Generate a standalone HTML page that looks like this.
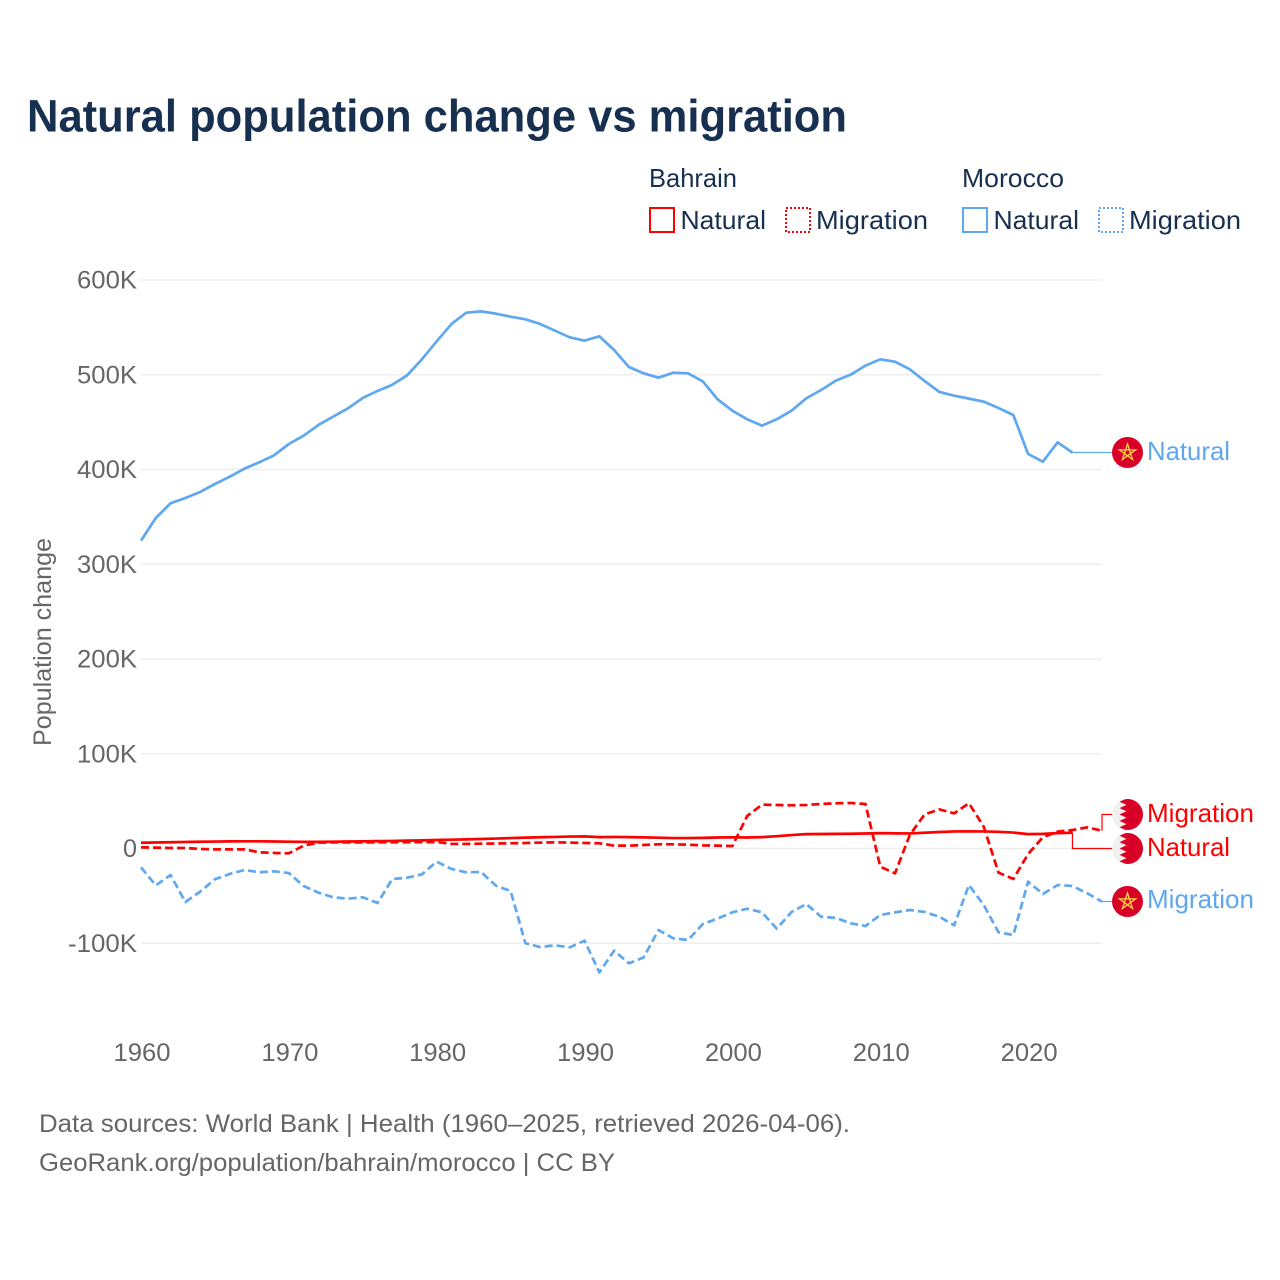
<!DOCTYPE html>
<html lang="en">
<head>
<meta charset="utf-8">
<title>Natural population change vs migration</title>
<style>
html,body{margin:0;padding:0;background:#fff;width:1280px;height:1280px;overflow:hidden}
svg{display:block}
text{font-family:"Liberation Sans",sans-serif}
</style>
</head>
<body>
<svg id="chart" xmlns="http://www.w3.org/2000/svg" width="1280" height="1280" viewBox="0 0 1280 1280">
  <rect width="1280" height="1280" fill="#fff"/>
  <text x="27" y="131.5" font-size="45.5" font-weight="700" fill="#18304f" textLength="820" lengthAdjust="spacingAndGlyphs">Natural population change vs migration</text>

  <g font-size="26" fill="#18304f">
    <text x="649" y="187" textLength="88" lengthAdjust="spacingAndGlyphs">Bahrain</text>
    <text x="962" y="187" textLength="102" lengthAdjust="spacingAndGlyphs">Morocco</text>
    <rect x="650" y="208" width="24" height="24" fill="none" stroke="#ff0000" stroke-width="2"/>
    <text x="680.5" y="229" textLength="85.5" lengthAdjust="spacingAndGlyphs">Natural</text>
    <rect x="786" y="208" width="24" height="24" fill="none" stroke="#ff0000" stroke-width="2" stroke-dasharray="2 2"/>
    <text x="816" y="229" textLength="112" lengthAdjust="spacingAndGlyphs">Migration</text>
    <rect x="963" y="208" width="24" height="24" fill="none" stroke="#5fa8ef" stroke-width="2"/>
    <text x="993.5" y="229" textLength="85.5" lengthAdjust="spacingAndGlyphs">Natural</text>
    <rect x="1099" y="208" width="24" height="24" fill="none" stroke="#5fa8ef" stroke-width="2" stroke-dasharray="2 2"/>
    <text x="1129" y="229" textLength="112" lengthAdjust="spacingAndGlyphs">Migration</text>
  </g>

  <text transform="translate(51,642) rotate(-90)" text-anchor="middle" font-size="25" fill="#666" textLength="208" lengthAdjust="spacingAndGlyphs">Population change</text>

  <g id="grid"></g>
  <g id="yticks"></g>
  <g id="xticks"></g>
  <g id="connectors"></g>
  <g id="series"></g>

  <g transform="translate(1127.5,452.5)">
    <circle r="15.5" fill="#d80027"/>
    <polygon points="0,-8.5 5,6.9 -8.1,-2.6 8.1,-2.6 -5,6.9" fill="none" stroke="#ffda44" stroke-width="1.3"/>
  </g>
  <g transform="translate(1127.5,901.5)">
    <circle r="15.5" fill="#d80027"/>
    <polygon points="0,-8.5 5,6.9 -8.1,-2.6 8.1,-2.6 -5,6.9" fill="none" stroke="#ffda44" stroke-width="1.3"/>
  </g>
  <defs>
    <clipPath id="flag-clip"><circle r="15.5"/></clipPath>
  </defs>
  <g transform="translate(1127.5,814.5)" clip-path="url(#flag-clip)">
    <circle r="15.5" fill="#f0f0f0"/>
    <polygon points="-1,-16 -8,-12.8 -1,-9.6 -8,-6.4 -1,-3.2 -8,0 -1,3.2 -8,6.4 -1,9.6 -8,12.8 -1,16 16,16 16,-16" fill="#d80027"/>
  </g>
  <g transform="translate(1127.5,848.5)" clip-path="url(#flag-clip)">
    <circle r="15.5" fill="#f0f0f0"/>
    <polygon points="-1,-16 -8,-12.8 -1,-9.6 -8,-6.4 -1,-3.2 -8,0 -1,3.2 -8,6.4 -1,9.6 -8,12.8 -1,16 16,16 16,-16" fill="#d80027"/>
  </g>

  <g font-size="26">
    <text x="1147" y="460" fill="#5fa8ef" textLength="83" lengthAdjust="spacingAndGlyphs">Natural</text>
    <text x="1147" y="822" fill="#ff0000" textLength="107" lengthAdjust="spacingAndGlyphs">Migration</text>
    <text x="1147" y="856" fill="#ff0000" textLength="83" lengthAdjust="spacingAndGlyphs">Natural</text>
    <text x="1147" y="908" fill="#5fa8ef" textLength="107" lengthAdjust="spacingAndGlyphs">Migration</text>
  </g>

  <g font-size="25" fill="#666">
    <text x="39" y="1132" textLength="811" lengthAdjust="spacingAndGlyphs">Data sources: World Bank | Health (1960–2025, retrieved 2026-04-06).</text>
    <text x="39" y="1171" textLength="576" lengthAdjust="spacingAndGlyphs">GeoRank.org/population/bahrain/morocco | CC BY</text>
  </g>
</svg>

<script>
// Values are in thousands of people; each series starts in startYear.
const startYear = 1960;
const xTickYears = [1960, 1970, 1980, 1990, 2000, 2010, 2020];
const yTickValues = [600, 500, 400, 300, 200, 100, 0, -100];
const yTickLabels = ['600K', '500K', '400K', '300K', '200K', '100K', '0', '-100K'];

const moroccoNatural = [324.9,348.8,364.3,369.9,376.3,384.7,392.4,400.9,407.6,415,
  426.9,435.7,447,455.8,464.6,475.5,482.9,489.5,499.4,516.3,
  535.3,553.6,565.5,566.9,564.5,561.3,558.5,553.6,546.5,539.5,
  536,540.6,526.1,508.2,501.5,496.9,502.2,501.5,493,474,
  462.1,453,446.3,453,462.1,475.1,483.9,493.8,500.1,509.6,
  516.3,513.8,505.7,493.4,481.8,477.9,474.8,471.6,464.9,457.5,
  416.4,408.3,428.7,417.8];
const moroccoMigration = [-19.9,-38.9,-28,-56.5,-45.6,-32.5,-26.9,-22.7,-25.1,-24.1,
  -25.9,-39.6,-46.6,-51.5,-52.9,-51.5,-57.5,-32.2,-30.8,-27.3,
  -13.9,-21.6,-25.1,-24.8,-39.2,-44.9,-100,-104,-102.2,-104.3,
  -97.3,-130.8,-107.8,-121.2,-114.9,-86,-94.8,-96.6,-79.7,-74,
  -67.4,-63.5,-67.4,-84.6,-67,-58.6,-72,-73.3,-79,-81.8,
  -70.2,-67.4,-64.9,-67,-72,-81.1,-38.5,-59.6,-88.5,-91.3,
  -35,-48,-38.5,-39.6,-47.3,-56.1];
const bahrainNatural = [6.1,6.3,6.6,6.9,7.1,7.3,7.5,7.6,7.6,7.4,
  7.2,7,7,7.2,7.4,7.6,7.8,8,8.3,8.6,
  9,9.3,9.6,10,10.5,11,11.5,11.9,12.2,12.6,
  12.8,12,12.2,12,11.7,11.4,11,11,11.2,11.6,
  11.8,11.6,12,13,14.2,15.2,15.3,15.4,15.6,15.8,
  16.2,16,15.9,16.6,17.4,18,18.1,18,17.6,16.8,
  15.2,15.4,16.2,16.7];
const bahrainMigration = [1.2,0.9,0.5,0.5,-0.5,-0.9,-0.9,-0.9,-4,-4.7,
  -5.1,3,6.2,6.5,6.5,6.5,6.5,6.6,6.6,6.7,
  6.9,4.8,4.8,5.1,5.3,5.5,5.8,6.2,6.5,6.2,
  5.8,5.5,3,3,3.7,4.4,4.4,4,3.3,3,
  2.6,34.3,46.3,45.9,45.6,45.9,47,47.7,48,47,
  -19.2,-26.2,14.3,36,41.3,37.1,47.7,23,-25.5,-32.2,
  -5.8,11.8,17.8,19.5,22.3,18.8];

const SVG_NS = 'http://www.w3.org/2000/svg';
const RED = '#ff0000';
const BLUE = '#5fa8ef';
const GRID_X0 = 141;
const GRID_X1 = 1102;

function xScale(year) { return 141 + (year - 1960) * 14.785; }
function yScale(value) { return 848.5 - value * 0.9475; }

function make(tag, attrs, parent) {
  const el = document.createElementNS(SVG_NS, tag);
  for (const k in attrs) el.setAttribute(k, attrs[k]);
  parent.appendChild(el);
  return el;
}

const gridG = document.getElementById('grid');
const yG = document.getElementById('yticks');
const xG = document.getElementById('xticks');
const seriesG = document.getElementById('series');
const connG = document.getElementById('connectors');

yTickValues.forEach(function (v, i) {
  const line = make('line', {x1: GRID_X0, x2: GRID_X1, y1: yScale(v), y2: yScale(v), stroke: '#eeeeee', 'stroke-width': 1.6}, gridG);
  
  
  const t = make('text', {x: 137, y: yScale(v) + 8.5, 'text-anchor': 'end', 'font-size': 25, fill: '#666'}, yG);
  
  
  t.setAttribute('textLength', Math.round(yTickLabels[i].length === 1 ? 14 : (yTickLabels[i].length === 5 ? 69 : 60)));
  t.setAttribute('lengthAdjust', 'spacingAndGlyphs');
  t.textContent = yTickLabels[i];
});

xTickYears.forEach(function (yr) {
  const t = make('text', {x: xScale(yr) + 1, y: 1061, 'text-anchor': 'middle', 'font-size': 25, fill: '#666'}, xG);
  
  
  t.setAttribute('textLength', 57);
  t.setAttribute('lengthAdjust', 'spacingAndGlyphs');
  t.textContent = yr;
});

function linePath(values) {
  return values.map(function (v, i) {
    return (i ? 'L' : 'M') + xScale(startYear + i).toFixed(2) + ' ' + yScale(v).toFixed(2);
  }).join(' ');
}

function endPoint(values) {
  const n = values.length - 1;
  return [xScale(startYear + n), yScale(values[n])];
}

// Thin leader lines run from each series' last point to its flag.
function connector(values, color, targetY) {
  const e = endPoint(values);
  const d = 'M' + e[0].toFixed(2) + ' ' + e[1].toFixed(2) +
    ' L' + e[0].toFixed(2) + ' ' + targetY + ' L1113 ' + targetY;
  return make('path', {d: d, fill: 'none', stroke: color, 'stroke-width': 1.2}, connG);
}

const connMoroccoNatural = connector(moroccoNatural, BLUE, 452.5);


const connBahrainMigration = connector(bahrainMigration, RED, 814.5);


const connBahrainNatural = connector(bahrainNatural, RED, 848.5);


const connMoroccoMigration = connector(moroccoMigration, BLUE, 901.5);



function drawLine(values, color, dashed) {
  const attrs = {d: linePath(values), fill: 'none', stroke: color, 'stroke-width': 2.7, 'stroke-linejoin': 'round'};
  if (dashed) attrs['stroke-dasharray'] = '8 4';
  return make('path', attrs, seriesG);
}

const lineMoroccoNatural = drawLine(moroccoNatural, BLUE, false);


const lineMoroccoMigration = drawLine(moroccoMigration, BLUE, true);


const lineBahrainNatural = drawLine(bahrainNatural, RED, false);


const lineBahrainMigration = drawLine(bahrainMigration, RED, true);


</script>
</body>
</html>
